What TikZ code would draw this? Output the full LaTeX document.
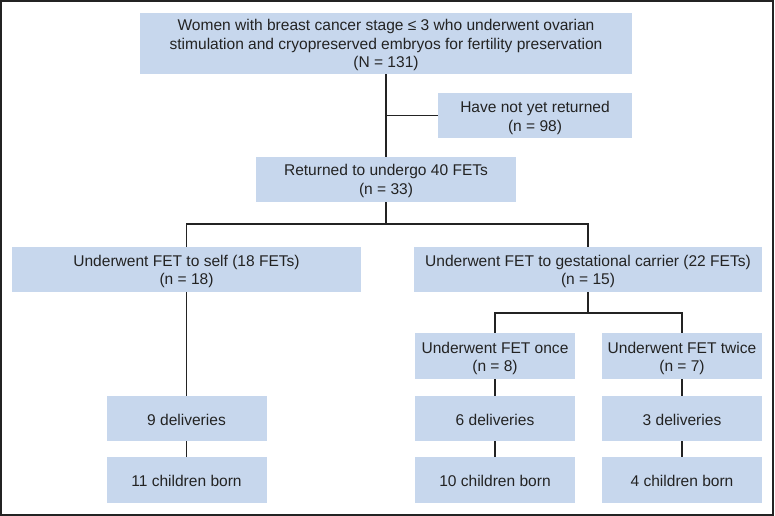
\documentclass[tikz,border=0pt]{standalone}
\usepackage{fontspec}
\setmainfont{Liberation Sans}
\definecolor{boxfill}{RGB}{199,215,237}
\definecolor{ink}{RGB}{35,35,35}
\newcommand{\bt}[2][2.5bp]{\raisebox{-#1}[\height][\depth]{\begin{tabular}{@{}c@{}}#2\end{tabular}}}
\begin{document}
\begin{tikzpicture}[x=1bp,y=-1bp,
  box/.style={fill=boxfill, draw=none, align=center, text=ink,
    font=\fontsize{15.6}{18.5}\selectfont, inner sep=0pt},
  conn/.style={draw=ink, line width=1.8bp}]
\useasboundingbox (0,0) rectangle (775,516);
\draw[line width=1.6bp, draw=ink] (1,1) rectangle (773,515);

\node[box, minimum width=492bp, minimum height=61bp] (top) at (386,43.5)
  {\bt[2bp]{Women with breast cancer stage ≤ 3 who underwent ovarian\\stimulation and cryopreserved embryos for fertility preservation\\(N = 131)}};
\node[box, minimum width=194bp, minimum height=45bp] (have) at (535,115.5)
  {\bt[3bp]{Have not yet returned\\(n = 98)}};
\node[box, minimum width=260bp, minimum height=45bp] (ret) at (386,179.5)
  {\bt[2bp]{Returned to undergo 40 FETs\\(n = 33)}};
\node[box, minimum width=349bp, minimum height=45bp] (self) at (186.5,269.5)
  {\bt{Underwent FET to self (18 FETs)\\(n = 18)}};
\node[box, minimum width=348bp, minimum height=45bp] (gest) at (588,269.5)
  {\bt{Underwent FET to gestational carrier (22 FETs)\\(n = 15)}};
\node[box, minimum width=160bp, minimum height=46bp] (once) at (495,356)
  {\bt[3bp]{Underwent FET once\\(n = 8)}};
\node[box, minimum width=160bp, minimum height=46bp] (twice) at (682,356)
  {\bt[3bp]{Underwent FET twice\\(n = 7)}};
\node[box, minimum width=160bp, minimum height=45bp] (d9) at (186.5,418.5) {\bt[3bp]{9 deliveries}};
\node[box, minimum width=160bp, minimum height=46bp] (c11) at (186.5,480) {\bt[3bp]{11 children born}};
\node[box, minimum width=160bp, minimum height=45bp] (d6) at (495,418.5) {\bt[3bp]{6 deliveries}};
\node[box, minimum width=160bp, minimum height=46bp] (c10) at (495,480) {\bt[3bp]{10 children born}};
\node[box, minimum width=160bp, minimum height=45bp] (d3) at (682,418.5) {\bt[3bp]{3 deliveries}};
\node[box, minimum width=160bp, minimum height=46bp] (c4) at (682,480) {\bt[3bp]{4 children born}};

\coordinate (bus1) at (0,224);
\coordinate (bus2) at (0,313);

\draw[conn] (top.south) -- (ret.north);
\draw[conn] (top.south |- have.west) -- (have.west);
\draw[conn] (ret.south) -- (ret.south |- bus1);
\draw[conn] (self.north) -- (self.north |- bus1) -- (gest.north |- bus1) -- (gest.north);
\draw[conn] (self.south) -- (d9.north);
\draw[conn] (d9.south) -- (c11.north);
\draw[conn] (gest.south) -- (gest.south |- bus2);
\draw[conn] (once.north) -- (once.north |- bus2) -- (twice.north |- bus2) -- (twice.north);
\draw[conn] (once.south) -- (d6.north);
\draw[conn] (d6.south) -- (c10.north);
\draw[conn] (twice.south) -- (d3.north);
\draw[conn] (d3.south) -- (c4.north);
\end{tikzpicture}
\end{document}
